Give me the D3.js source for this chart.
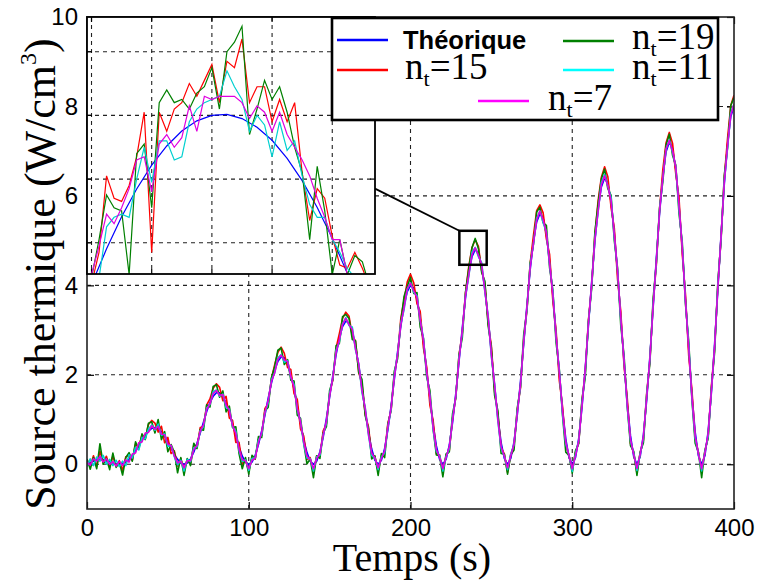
<!DOCTYPE html>
<html><head><meta charset="utf-8">
<script src="https://cdn.jsdelivr.net/npm/d3@7"></script>
<style>body{margin:0;background:#fff}svg{display:block}</style>
</head><body>
<svg id="c" width="760" height="581"></svg>
<script>
// ---------- DATA ----------
const sampleTimes = d3.range(0, 401, 2); // s
const theorique = [0,.04,.07,.10,.11,.10,.08,.06,.03,.01,0,.01,.05,.11,.19,.30,.42,.54,.65,.74,
.80,.82,.80,.73,.63,.50,.36,.22,.11,.03,0,.03,.12,.27,.47,.70,.94,1.18,1.38,1.52,
1.60,1.60,1.52,1.37,1.15,.90,.64,.39,.18,.05,0,.05,.20,.44,.75,1.10,1.47,1.81,2.10,2.30,
2.40,2.38,2.24,2.00,1.68,1.30,.91,.55,.26,.07,0,.07,.28,.60,1.02,1.50,1.99,2.45,2.82,3.08,
3.20,3.16,2.97,2.64,2.20,1.70,1.19,.72,.34,.09,0,.09,.35,.77,1.30,1.90,2.51,3.08,3.55,3.86,
4.00,3.94,3.69,3.27,2.72,2.10,1.47,.88,.41,.11,0,.11,.43,.93,1.58,2.30,3.04,3.72,4.27,4.64,
4.80,4.72,4.41,3.91,3.25,2.50,1.74,1.05,.49,.13,0,.13,.50,1.10,1.85,2.70,3.56,4.35,4.99,5.42,
5.60,5.50,5.14,4.54,3.77,2.90,2.02,1.21,.57,.15,0,.15,.58,1.26,2.13,3.10,4.08,4.99,5.72,6.20,
6.40,6.28,5.86,5.18,4.29,3.30,2.29,1.38,.64,.17,0,.17,.66,1.43,2.41,3.50,4.61,5.62,6.44,6.99,
7.20,7.06,6.59,5.81,4.82,3.70,2.57,1.54,.72,.19,0,.19,.73,1.59,2.68,3.90,5.13,6.26,7.16,7.77,
8.00];
const nt15 = [.10,-.04,.19,-.05,.29,.04,.18,-.06,.18,-.04,.08,-.14,.17,.19,.09,.45,.37,.66,.57,.89,
.98,.92,.72,.85,.48,.60,.24,.30,-.04,.13,-.12,.11,.02,.42,.39,.82,.84,1.33,1.46,1.70,
1.80,1.72,1.42,1.52,1.03,.98,.49,.49,0,.10,-.15,.15,.12,.56,.65,1.25,1.35,1.91,2.22,2.50,
2.62,2.48,2.16,2.12,1.58,1.45,.79,.63,.11,.15,-.18,.19,.18,.75,.90,1.58,1.89,2.60,2.92,3.26,
3.40,3.31,2.87,2.76,2.05,1.80,1.11,.84,.22,.17,-.15,.19,.23,.92,1.20,2.02,2.43,3.26,3.67,4.08,
4.25,4.06,3.59,3.42,2.60,2.18,1.32,.98,.23,.21,-.15,.19,.31,1.03,1.50,2.45,2.92,3.84,4.42,4.84,
5.02,4.87,4.33,4.03,3.15,2.65,1.62,1.13,.37,.23,-.18,.23,.42,1.22,1.70,2.80,3.44,4.50,5.11,5.67,
5.80,5.62,5.04,4.69,3.65,3.00,1.87,1.29,.42,.20,-.15,.27,.48,1.41,2.05,3.22,3.98,5.14,5.90,6.42,
6.65,6.43,5.74,5.28,4.14,3.42,2.21,1.48,.46,.25,-.20,.27,.54,1.58,2.31,3.62,4.46,5.72,6.59,7.19,
7.42,7.18,6.49,5.96,4.70,3.80,2.42,1.66,.57,.27,-.15,.29,.61,1.74,2.58,4.02,5.05,6.41,7.28,8.02,
8.25];
const nt19 = [.12,-.11,.15,-.10,.46,0,.13,-.12,.25,-.07,.04,-.24,.15,.26,.07,.50,.34,.68,.55,.92,
.95,.70,1.00,.55,.73,.28,.44,.27,-.19,.15,-.25,.13,-.03,.47,.35,.78,.76,1.33,1.28,1.74,
1.78,1.50,1.64,1.17,1.30,.82,.84,.24,-.10,.15,-.22,.20,.12,.62,.60,1.20,1.27,1.93,2.18,2.55,
2.60,2.23,2.34,1.88,1.86,1.10,1.03,.47,.01,.12,-.30,.19,.13,.70,.84,1.65,1.89,2.65,2.70,3.30,
3.35,3.26,2.79,2.76,2.05,1.90,1.09,.80,.12,.19,-.25,.24,.15,.89,1.22,2.08,2.36,3.18,3.75,3.98,
4.18,3.82,3.84,3.07,2.82,1.95,1.65,.78,.21,.19,-.28,.23,.28,1.13,1.48,2.45,2.82,3.84,4.37,4.84,
5.05,4.82,4.29,4.09,3.10,2.60,1.54,1.20,.24,.23,-.22,.21,.32,1.25,1.73,2.90,3.46,4.50,4.91,5.64,
5.75,5.40,5.34,4.39,3.89,2.72,2.12,1.09,.27,.20,-.20,.30,.46,1.44,1.93,3.20,3.93,5.19,5.82,6.38,
6.60,6.16,6.01,5.00,4.39,3.10,2.44,1.30,.42,.29,-.25,.27,.48,1.55,2.26,3.70,4.51,5.74,6.32,7.14,
7.38,6.91,6.69,5.61,4.97,3.58,2.75,1.44,.47,.27,-.30,.31,.58,1.69,2.50,4.05,5.01,6.46,7.08,8.02,
8.20];
const nt11 = [-.05,.12,-.03,.16,.07,.20,0,.11,-.03,.09,-.05,.07,-.03,.21,.14,.38,.32,.60,.57,.79,
.88,.76,.90,.65,.68,.40,.42,.17,-.01,.09,-.15,.11,.06,.37,.39,.75,.84,1.26,1.33,1.62,
1.66,1.52,1.57,1.27,1.23,.84,.74,.31,.06,.10,-.14,.13,.15,.54,.67,1.16,1.37,1.89,2.04,2.38,
2.45,2.28,2.32,1.94,1.78,1.22,.96,.45,.14,.13,-.15,.17,.20,.66,.92,1.58,1.93,2.55,2.74,3.14,
3.28,3.10,3.07,2.56,2.25,1.60,1.27,.66,.20,.14,-.12,.17,.25,.83,1.22,2.00,2.46,3.16,3.45,3.91,
4.06,3.84,3.77,3.22,2.82,2.02,1.53,.78,.29,.19,-.15,.17,.35,1.03,1.52,2.38,2.94,3.78,4.19,4.74,
4.85,4.64,4.51,3.85,3.33,2.40,1.79,.97,.35,.19,-.12,.23,.44,1.18,1.75,2.75,3.48,4.45,4.93,5.50,
5.66,5.40,5.19,4.46,3.87,2.84,2.10,1.11,.45,.20,-.16,.23,.52,1.36,2.05,3.16,3.98,5.04,5.64,6.30,
6.48,6.22,5.96,5.08,4.34,3.22,2.35,1.28,.52,.25,-.14,.23,.58,1.53,2.35,3.58,4.51,5.70,6.39,7.05,
7.25,6.98,6.65,5.71,4.90,3.64,2.67,1.46,.58,.25,-.15,.27,.63,1.65,2.60,4.00,5.07,6.34,7.06,7.85,
8.06];
const nt7 = [.04,-.02,.12,.07,.18,.05,.12,0,.06,-.04,.06,-.03,.10,.05,.23,.25,.48,.50,.70,.71,
.86,.78,.85,.67,.66,.45,.42,.18,.03,.07,-.08,.08,.08,.33,.42,.74,.88,1.23,1.35,1.58,
1.65,1.54,1.56,1.32,1.21,.86,.69,.33,.10,.08,-.10,.09,.14,.49,.71,1.16,1.42,1.85,2.04,2.35,
2.44,2.33,2.30,1.96,1.73,1.24,.95,.50,.18,.11,-.10,.13,.24,.65,.96,1.54,1.94,2.51,2.78,3.13,
3.26,3.12,3.02,2.58,2.24,1.65,1.25,.68,.25,.14,-.08,.13,.30,.83,1.26,1.95,2.45,3.12,3.50,3.92,
4.05,3.88,3.73,3.22,2.78,2.06,1.52,.82,.33,.15,-.10,.16,.39,.99,1.53,2.34,2.98,3.77,4.23,4.69,
4.84,4.67,4.47,3.87,3.30,2.44,1.78,1.00,.40,.18,-.08,.19,.45,1.14,1.79,2.75,3.52,4.41,4.94,5.46,
5.66,5.46,5.19,4.48,3.81,2.85,2.08,1.17,.49,.19,-.10,.19,.52,1.31,2.09,3.16,4.03,5.03,5.66,6.25,
6.45,6.22,5.90,5.13,4.35,3.26,2.34,1.32,.56,.22,-.09,.22,.62,1.49,2.36,3.54,4.55,5.67,6.40,7.05,
7.24,7.01,6.65,5.77,4.87,3.64,2.61,1.49,.63,.23,-.10,.25,.68,1.63,2.62,3.95,5.09,6.32,7.11,7.81,
8.05];

// inset (zoom around t = 240 s)
const insetTimes = [235.75,236,236.25,236.5,236.75,237,237.25,237.5,237.75,238,238.25,238.5,238.75,239,239.25,239.5,239.75,240,240.25,240.5,
240.75,241,241.25,241.5,241.75,242,242.25,242.5,242.75,243,243.25,243.5,243.75,244,244.25,244.5,244.75,245,245.25,245.5];
const insetNt19 = [4.22,4.29,4.41,4.55,4.51,4.50,4.30,4.68,4.71,4.51,4.84,4.88,4.84,4.85,4.82,4.87,4.89,4.95,4.82,5.00,
5.03,5.08,4.74,4.82,4.91,4.85,4.89,4.81,4.70,4.62,4.41,4.64,4.50,4.30,4.41,4.30,4.36,4.34,4.26,4.24];
const insetNt15 = [4.22,4.27,4.37,4.61,4.54,4.53,4.58,4.67,4.81,4.37,4.81,4.75,4.82,4.84,4.90,4.86,4.91,4.96,4.84,4.97,
4.95,5.04,4.84,4.89,4.89,4.78,4.85,4.78,4.84,4.62,4.47,4.57,4.54,4.42,4.33,4.32,4.37,4.32,4.26,4.24];
const insetNt11 = [4.24,4.27,4.29,4.45,4.48,4.49,4.48,4.60,4.70,4.59,4.72,4.72,4.66,4.67,4.78,4.82,4.84,4.85,4.86,4.94,
4.89,4.85,4.75,4.80,4.77,4.67,4.78,4.69,4.72,4.61,4.52,4.48,4.48,4.41,4.37,4.32,4.29,4.27,4.26,4.25];
const insetNt7 = [4.29,4.30,4.39,4.49,4.46,4.51,4.57,4.66,4.67,4.56,4.71,4.74,4.70,4.73,4.83,4.75,4.86,4.85,4.86,4.86,
4.86,4.84,4.79,4.83,4.81,4.75,4.81,4.74,4.70,4.66,4.61,4.54,4.48,4.41,4.41,4.30,4.27,4.26,4.25,4.24];
const insetTheoTimes = [235.5,236,236.5,237,237.5,238,238.5,239,239.5,240,240.5,241,241.5,242,242.5,243,243.5,244,244.5,245,245.5];
const insetTheo = [4.146,4.269,4.381,4.482,4.569,4.644,4.704,4.751,4.783,4.800,4.803,4.790,4.763,4.722,4.665,4.595,4.511,4.414,4.304,4.182,4.049];
const insetXDomain = [235.85, 245.42];
const insetYDomain = [4.302, 5.109];
const insetXGrid = [236, 238, 240, 242, 244];
const insetYGrid = [4.4, 4.6, 4.8, 5.0];
const zoomBox = {t0: 230.2, t1: 247.1, s0: 4.46, s1: 5.22};

const xTicks = [0, 100, 200, 300, 400];
const yTicks = [0, 2, 4, 6, 8, 10];
const xGrid = [100, 200, 300];
const yGrid = [0, 2, 4, 6, 8];

// ---------- CHART ----------
const series = [
  {key:'theo', label:'Théorique', sub:null, values:theorique, color:'#0000ff', legendColor:'#0000ff'},
  {key:'nt15', label:'n', sub:'t', rest:'=15', values:nt15, inset:insetNt15, color:'#ff0000', legendColor:'#ff0000'},
  {key:'nt19', label:'n', sub:'t', rest:'=19', values:nt19, inset:insetNt19, color:'#008000', legendColor:'#008000'},
  {key:'nt11', label:'n', sub:'t', rest:'=11', values:nt11, inset:insetNt11, color:'#00d0d0', legendColor:'#00ffff'},
  {key:'nt7',  label:'n', sub:'t', rest:'=7',  values:nt7,  inset:insetNt7,  color:'#e000e0', legendColor:'#ff00ff'}
];

const P = {l:87, r:734, t:17, b:509};
const x = d3.scaleLinear().domain([0,400]).range([P.l,P.r]);
const y = d3.scaleLinear().domain([-1,10]).range([P.b,P.t]);
const svg = d3.select('#c');
const defs = svg.append('defs');
defs.append('clipPath').attr('id','mainClip').append('rect')
  .attr('x',P.l).attr('y',P.t).attr('width',P.r-P.l).attr('height',P.b-P.t);

svg.append('rect').attr('width',760).attr('height',581).attr('fill','#fff');

// grid
const grid = svg.append('g').attr('stroke','#222').attr('stroke-width',1.1).attr('stroke-dasharray','4,4');
grid.selectAll('.gx').data(xGrid).join('line')
  .attr('x1',d=>x(d)).attr('x2',d=>x(d)).attr('y1',P.t).attr('y2',P.b);
grid.selectAll('.gy').data(yGrid).join('line')
  .attr('y1',d=>y(d)).attr('y2',d=>y(d)).attr('x1',P.l).attr('x2',P.r);

// axes (inward ticks)
const SANS = "Liberation Sans";
const SERIF = "Liberation Serif";
const ax = svg.append('g').attr('transform',`translate(0,${P.b})`)
  .call(d3.axisBottom(x).tickValues(xTicks).tickSize(-7).tickPadding(10).tickFormat(d3.format('d')));
const ay = svg.append('g').attr('transform',`translate(${P.l},0)`)
  .call(d3.axisLeft(y).tickValues(yTicks).tickSize(-7).tickPadding(9).tickFormat(d3.format('d')));
const axT = svg.append('g').attr('transform',`translate(0,${P.t})`)
  .call(d3.axisTop(x).tickValues(xTicks).tickSize(-7).tickFormat(''));
const ayR = svg.append('g').attr('transform',`translate(${P.r},0)`)
  .call(d3.axisRight(y).tickValues(yTicks).tickSize(-7).tickFormat(''));
[ax,ay,axT,ayR].forEach(a=>{
  a.select('.domain').remove();
  a.selectAll('line').attr('stroke','#000').attr('stroke-width',1.2);
  a.selectAll('text').style('font-family',SANS).style('font-size','24px').attr('fill','#000');
});

// series lines
const line = d3.line().x((d,i)=>x(sampleTimes[i])).y(d=>y(d));
const main = svg.append('g').attr('clip-path','url(#mainClip)');
series.forEach(s=>{
  main.append('path').datum(s.values).attr('d',line)
    .attr('fill','none').attr('stroke',s.color).attr('stroke-width',1.6).attr('stroke-linejoin','round');
});

// zoom box
svg.append('rect')
  .attr('x',x(zoomBox.t0)).attr('y',y(zoomBox.s1))
  .attr('width',x(zoomBox.t1)-x(zoomBox.t0)).attr('height',y(zoomBox.s0)-y(zoomBox.s1))
  .attr('fill','none').attr('stroke','#000').attr('stroke-width',2.5);

// frame
svg.append('rect').attr('x',P.l).attr('y',P.t).attr('width',P.r-P.l).attr('height',P.b-P.t)
  .attr('fill','none').attr('stroke','#222').attr('stroke-width',1.6);

// ---------- INSET ----------
const I = {l:87, r:375, t:17, b:274};
const ix = d3.scaleLinear().domain(insetXDomain).range([I.l,I.r]);
const iy = d3.scaleLinear().domain(insetYDomain).range([I.b,I.t]);
defs.append('clipPath').attr('id','insetClip').append('rect')
  .attr('x',I.l).attr('y',I.t).attr('width',I.r-I.l).attr('height',I.b-I.t);
// connector
svg.append('line').attr('x1',I.r).attr('y1',iy(4.57)).attr('x2',x(zoomBox.t0)).attr('y2',y(zoomBox.s1))
  .attr('stroke','#000').attr('stroke-width',1.8);
svg.append('rect').attr('x',I.l).attr('y',I.t).attr('width',I.r-I.l).attr('height',I.b-I.t).attr('fill','#fff');
const ig = svg.append('g').attr('stroke','#222').attr('stroke-width',1.1).attr('stroke-dasharray','4,4');
ig.selectAll('.ix').data(insetXGrid).join('line')
  .attr('x1',d=>ix(d)).attr('x2',d=>ix(d)).attr('y1',I.t).attr('y2',I.b);
ig.selectAll('.iy').data(insetYGrid).join('line')
  .attr('y1',d=>iy(d)).attr('y2',d=>iy(d)).attr('x1',I.l).attr('x2',I.r);
const it = svg.append('g').attr('stroke','#000').attr('stroke-width',1.2);
insetYGrid.forEach(v=>{
  it.append('line').attr('x1',I.l).attr('x2',I.l+5).attr('y1',iy(v)).attr('y2',iy(v));
  it.append('line').attr('x1',I.r).attr('x2',I.r-5).attr('y1',iy(v)).attr('y2',iy(v));
});
insetXGrid.forEach(v=>{
  it.append('line').attr('y1',I.b).attr('y2',I.b-5).attr('x1',ix(v)).attr('x2',ix(v));
  it.append('line').attr('y1',I.t).attr('y2',I.t+5).attr('x1',ix(v)).attr('x2',ix(v));
});
const ins = svg.append('g').attr('clip-path','url(#insetClip)');
ins.append('path').datum(insetTheo)
  .attr('d',d3.line().x((d,i)=>ix(insetTheoTimes[i])).y(d=>iy(d)))
  .attr('fill','none').attr('stroke','#0000ff').attr('stroke-width',1.2);
const iline = d3.line().x((d,i)=>ix(insetTimes[i])).y(d=>iy(d));
series.filter(s=>s.inset).forEach(s=>{
  ins.append('path').datum(s.inset).attr('d',iline)
    .attr('fill','none').attr('stroke',s.color).attr('stroke-width',1.2);
});
svg.append('rect').attr('x',I.l).attr('y',I.t).attr('width',I.r-I.l).attr('height',I.b-I.t)
  .attr('fill','none').attr('stroke','#000').attr('stroke-width',1.8);

// ---------- LEGEND ----------
const L = svg.append('g');
L.append('rect').attr('x',332).attr('y',18).attr('width',386).attr('height',102)
  .attr('fill','#fff').attr('stroke','#000').attr('stroke-width',2.6);
const legPos = {
  theo:{lx:337, ly:40, tx:403, ty:49},
  nt15:{lx:337, ly:70, tx:405, ty:79},
  nt19:{lx:563, ly:41, tx:632, ty:49},
  nt11:{lx:563, ly:70, tx:632, ty:79},
  nt7: {lx:478, ly:101, tx:548, ty:110}
};
series.forEach(s=>{
  const p = legPos[s.key];
  L.append('line').attr('x1',p.lx).attr('x2',p.lx+51).attr('y1',p.ly).attr('y2',p.ly)
    .attr('stroke',s.legendColor).attr('stroke-width',2.6);
  if (!s.sub) {
    L.append('text').attr('x',p.tx).attr('y',p.ty).text(s.label)
      .style('font-family',SANS).style('font-weight','bold').style('font-size','25.5px').attr('fill','#000');
  } else {
    const t = L.append('text').attr('x',p.tx).attr('y',p.ty)
      .style('font-family',SERIF).style('font-size','37px').attr('fill','#000');
    t.append('tspan').text(s.label);
    t.append('tspan').text(s.sub).style('font-size','22px').attr('dy',7);
    t.append('tspan').text(s.rest).attr('dy',-7);
  }
});

// ---------- TITLES ----------
svg.append('text').attr('x',412).attr('y',571).attr('text-anchor','middle')
  .style('font-family',SERIF).style('font-size','40px').attr('fill','#000').text('Temps (s)');
const yt = svg.append('text').attr('transform','translate(55,274) rotate(-90)')
  .attr('text-anchor','middle').style('font-family',SERIF).style('font-size','44px').attr('fill','#000');
yt.append('tspan').text('Source thermique (W/cm');
yt.append('tspan').text('3').style('font-size','24px').attr('dy',-19);
yt.append('tspan').text(')').attr('dy',19);
</script>
</body></html>
